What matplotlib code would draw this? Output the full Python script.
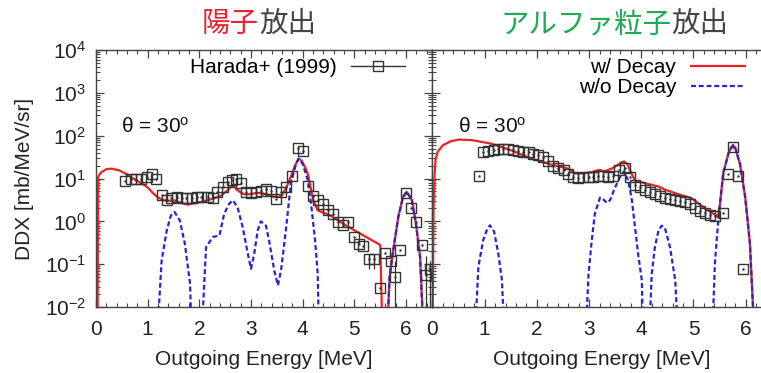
import numpy as np
import matplotlib
matplotlib.use("Agg")
import matplotlib.pyplot as plt
from matplotlib.lines import Line2D
from matplotlib.ticker import MultipleLocator, LogLocator, NullFormatter

plt.rcParams['font.family'] = ['Liberation Sans', 'DejaVu Sans']
plt.rcParams['mathtext.fontset'] = 'custom'
plt.rcParams['mathtext.rm'] = 'Liberation Sans'
plt.rcParams['mathtext.it'] = 'Liberation Sans:italic'

# ---- proton panel (陽子放出) ----
p_exp_E = [0.57, 0.67, 0.77, 0.87, 0.98, 1.08, 1.16, 1.28, 1.37, 1.46, 1.56, 1.66, 1.75,
           1.85, 1.95, 2.04, 2.16, 2.26, 2.35, 2.45, 2.55, 2.63, 2.71, 2.81, 2.90, 3.00,
           3.10, 3.19, 3.29, 3.39, 3.48, 3.58, 3.68, 3.79, 3.90, 4.00, 4.10, 4.19, 4.29,
           4.39, 4.48, 4.58, 4.68, 4.77, 4.87, 4.99, 5.09, 5.17, 5.29, 5.38, 5.49, 5.60,
           5.70, 5.79, 5.89, 6.00, 6.09, 6.19, 6.31, 6.38, 6.46]
p_exp_y = [8.9, 9.5, 9.5, 10, 11, 12.6, 10, 4.1, 3.2, 3.5, 3.7, 3.5, 3.5,
           3.5, 3.7, 3.7, 3.8, 3.6, 4.8, 6.3, 8.1, 9.3, 9.8, 7.8, 4.8, 4.7,
           4.8, 5.0, 5.8, 5.2, 3.4, 4.8, 6.3, 11.7, 52, 43, 6.6, 4.0, 3.1,
           2.5, 1.8, 1.5, 0.95, 0.83, 0.95, 0.44, 0.30, 0.26, 0.13, 0.13, 0.028, 0.18,
           0.12, 0.050, 0.22, 4.7, 2.1, 0.98, 0.28, 0.055, 0.079]
# points with visible error bars: (index, lower, upper)
p_err = [(48, 0.054, 0.04), (49, 0.054, 0.04), (53, 0.0499, 0.07),
         (59, 0.0549, 0.10), (60, 0.0789, 0.04)]

p_dec_E = [0.03, 0.04, 0.06, 0.1, 0.2, 0.3, 0.45, 0.6, 0.75, 0.9, 1.0, 1.1, 1.2, 1.32,
           1.45, 1.52, 1.6, 1.77, 1.95, 2.16, 2.3, 2.42, 2.52, 2.6, 2.65, 2.72, 2.8,
           2.87, 3.0, 3.1, 3.19, 3.3, 3.45, 3.58, 3.68, 3.77, 3.85, 3.92, 3.98, 4.05,
           4.1, 4.15, 4.2, 4.29, 4.4, 4.53, 4.87, 5.2, 5.5, 5.55, 5.62, 5.68, 5.75,
           5.85, 5.94, 6.01, 6.11, 6.19, 6.27, 6.35]
p_dec_y = [0.001, 10.5, 12, 14, 16.5, 17, 15.5, 12.5, 9.5, 7.5, 6.2, 4.6, 3.6, 3.1,
           3.0, 3.1, 2.8, 2.45, 2.7, 3.1, 3.5, 4.0, 5.0, 6.2, 6.9, 5.6, 4.7,
           4.3, 4.3, 4.6, 4.6, 4.3, 3.7, 3.8, 6.0, 11, 20, 29, 26, 18,
           12.5, 6.5, 3.2, 1.8, 1.6, 1.38, 0.76, 0.45, 0.28, 0.001, 0.001, 0.05, 0.21,
           1.29, 3.7, 4.9, 3.2, 0.89, 0.15, 0.001]

p_nod_E = [1.17, 1.27, 1.37, 1.45, 1.52, 1.62, 1.72, 1.82, 1.86, 2.03, 2.13, 2.26,
           2.39, 2.48, 2.58, 2.65, 2.74, 2.84, 2.94, 3.0, 3.06, 3.13, 3.19, 3.29,
           3.35, 3.45, 3.52, 3.58, 3.68, 3.77, 3.87, 3.92, 4.0, 4.1, 4.17, 4.24,
           4.29, 4.32, 5.62, 5.68, 5.75, 5.85, 5.94, 6.01, 6.11, 6.19, 6.27, 6.35]
p_nod_y = [0.001, 0.12, 0.62, 1.38, 1.66, 1.07, 0.30, 0.035, 0.001, 0.001, 0.25, 0.43,
           0.47, 1.5, 2.6, 3.1, 2.1, 0.72, 0.17, 0.078, 0.17, 0.62, 1.0, 0.79,
           0.35, 0.071, 0.032, 0.071, 0.72, 7.6, 22, 29, 22, 8.9, 2.1, 0.35,
           0.059, 0.001, 0.001, 0.05, 0.21, 1.29, 3.7, 4.9, 3.2, 0.89, 0.15, 0.001]

# ---- alpha panel (アルファ粒子放出) ----
a_exp_E = [0.89, 0.97, 1.07, 1.17, 1.26, 1.36, 1.45, 1.55, 1.64, 1.74, 1.84, 1.93,
           2.03, 2.12, 2.22, 2.31, 2.41, 2.51, 2.60, 2.70, 2.79, 2.89, 2.99, 3.08,
           3.18, 3.27, 3.37, 3.46, 3.57, 3.69, 3.78, 3.88, 3.97, 4.07, 4.17, 4.26,
           4.36, 4.45, 4.55, 4.65, 4.74, 4.84, 4.93, 5.03, 5.12, 5.22, 5.32, 5.41,
           5.57, 5.67, 5.76, 5.86, 5.95]
a_exp_y = [11.2, 41, 45, 47, 49, 49, 49, 47, 45, 41, 41, 38,
           35, 32, 26, 20, 18, 15.5, 12.9, 10.7, 10.5, 10.7, 10.7, 10.7,
           11.2, 11.7, 10.7, 11.7, 15.5, 17.8, 10.7, 7.2, 6.3, 5.5, 4.8, 4.4,
           4.0, 3.6, 3.4, 3.1, 3.0, 2.8, 2.6, 2.0, 1.7, 1.55, 1.4, 1.3,
           1.6, 12.6, 54, 11.5, 0.079]

a_dec_E = [0.0, 0.02, 0.04, 0.06, 0.1, 0.2, 0.35, 0.5, 0.75, 1.13, 1.52, 1.90, 2.28,
           2.60, 2.73, 2.9, 3.05, 3.18, 3.30, 3.43, 3.53, 3.62, 3.67, 3.74, 3.80,
           3.88, 4.07, 4.33, 4.45, 4.71, 4.96, 5.22, 5.48, 5.57, 5.67, 5.72, 5.76,
           5.80, 5.89, 5.99, 6.08, 6.18]
a_dec_y = [0.001, 2.0, 12.6, 28, 42, 60, 74, 81, 79, 65, 45, 29, 21,
           17, 13.2, 13.2, 14.1, 15.8, 14.8, 17, 20, 24, 25, 21, 14.1,
           8.9, 7.8, 6.5, 5.5, 4.3, 3.5, 2.0, 1.26, 13.2, 39, 52, 60,
           52, 22, 3.7, 0.31, 0.001]

a_nod_E = [0.80, 0.88, 0.97, 1.04, 1.10, 1.18, 1.26, 1.33, 1.39,
           2.92, 2.99, 3.05, 3.11, 3.21, 3.28, 3.34, 3.40, 3.50, 3.59, 3.67, 3.75,
           3.82, 3.88, 3.94, 4.01, 4.04,
           4.14, 4.20, 4.26, 4.33, 4.39, 4.45, 4.55, 4.65, 4.72,
           5.35, 5.41, 5.48, 5.57, 5.67, 5.72, 5.76, 5.80, 5.89, 5.99, 6.08, 6.18]
a_nod_y = [0.001, 0.087, 0.36, 0.62, 0.81, 0.58, 0.18, 0.043, 0.001,
           0.001, 0.059, 0.35, 1.5, 3.6, 3.2, 2.7, 3.1, 6.3, 10.7, 14.8, 8.9,
           3.1, 0.72, 0.17, 0.042, 0.001,
           0.001, 0.059, 0.25, 0.62, 0.79, 0.72, 0.25, 0.042, 0.001,
           0.001, 0.105, 1.29, 13.2, 39, 52, 60, 52, 22, 3.7, 0.31, 0.001]

RED = '#ee2020'
BLUE = '#2424d8'
DATA = '#333333'
FRAME = '#444444'

fig = plt.figure(figsize=(7.61, 3.73), dpi=100)
axL = fig.add_axes([0.1261, 0.1769, 0.4415, 0.689])
axR = fig.add_axes([0.5683, 0.1769, 0.4459, 0.689])


def draw_data(ax, E, y, errs=()):
    E = np.array(E)
    y = np.array(y)
    for i, lo, hi in errs:
        ax.vlines(E[i], y[i] - lo, y[i] + hi, color=DATA, lw=0.9, zorder=3)
    ax.plot(E, y, 's', ms=6.8, mfc='none', mec=DATA, mew=1.0, zorder=4)
    ax.plot(E, y, '.', ms=1.5, color=DATA, zorder=4)


draw_data(axL, p_exp_E, p_exp_y, p_err)
axL.plot(p_dec_E, p_dec_y, color=RED, lw=1.6, zorder=2)
axL.plot(p_nod_E, p_nod_y, color=BLUE, lw=1.6, ls=(0, (2.2, 1.3)), zorder=3)

draw_data(axR, a_exp_E, a_exp_y)
axR.plot(a_dec_E, a_dec_y, color=RED, lw=1.6, zorder=2)
axR.plot(a_nod_E, a_nod_y, color=BLUE, lw=1.6, ls=(0, (2.2, 1.3)), zorder=3)

for ax in (axL, axR):
    ax.set_yscale('log')
    ax.set_xlim(0, 6.5)
    ax.set_ylim(1e-2, 1e4)
    ax.xaxis.set_major_locator(MultipleLocator(1))
    ax.xaxis.set_minor_locator(MultipleLocator(0.2))
    ax.yaxis.set_major_locator(LogLocator(base=10, numticks=10))
    ax.yaxis.set_minor_locator(LogLocator(base=10, subs=np.arange(2, 10), numticks=10))
    ax.yaxis.set_minor_formatter(NullFormatter())
    ax.tick_params(which='both', direction='in', top=True, right=True,
                   color=FRAME, labelsize=15, labelcolor='#222222')
    ax.tick_params(which='major', length=6, width=0.9)
    ax.tick_params(axis='x', which='major', pad=9)
    ax.tick_params(axis='y', which='major', pad=7)
    ax.tick_params(which='minor', length=3, width=0.8)
    for s in ax.spines.values():
        s.set_color(FRAME)
        s.set_linewidth(1.0)
    ax.set_xlabel('Outgoing Energy [MeV]', fontsize=15, color='#222222', labelpad=8)
    ax.text(0.075, 0.70, 'θ = 30$^{\\rm o}$', transform=ax.transAxes,
            fontsize=15, va='center', ha='left', color='#111111')

axR.tick_params(labelleft=False)
axL.set_ylabel('DDX [mb/MeV/sr]', fontsize=15, color='#222222', labelpad=8)

hL = [Line2D([], [], color=DATA, lw=1.0, marker='s', ms=6.8, mfc='none', mew=1.0)]
axL.legend(hL, ['Harada+ (1999)'], loc='upper right', bbox_to_anchor=(0.945, 1.0),
           frameon=False, fontsize=15, handlelength=2.6, handletextpad=0.7,
           borderaxespad=0.0, markerfirst=False)
hR = [Line2D([], [], color=RED, lw=1.6),
      Line2D([], [], color=BLUE, lw=1.6, ls=(0, (2.2, 1.3)))]
axR.legend(hR, ['w/ Decay', 'w/o Decay'], loc='upper right', bbox_to_anchor=(0.945, 1.0),
           frameon=False, fontsize=15, handlelength=2.6, handletextpad=0.7,
           borderaxespad=0.0, labelspacing=0.05, markerfirst=False)

# titles with two colours
jp = ['Noto Sans CJK JP', 'DejaVu Sans']
fig.text(259 / 761, 0.935, '陽子', color='#e82530', fontsize=20.5, family=jp,
         ha='right', va='center')
fig.text(259 / 761, 0.935, '放出', color='#444444', fontsize=20.5, family=jp,
         ha='left', va='center')
fig.text(671 / 761, 0.935, 'アルファ粒子', color='#1faa55', fontsize=20.5, family=jp,
         ha='right', va='center')
fig.text(671 / 761, 0.935, '放出', color='#444444', fontsize=20.5, family=jp,
         ha='left', va='center')

fig.savefig('out.png', dpi=100)
